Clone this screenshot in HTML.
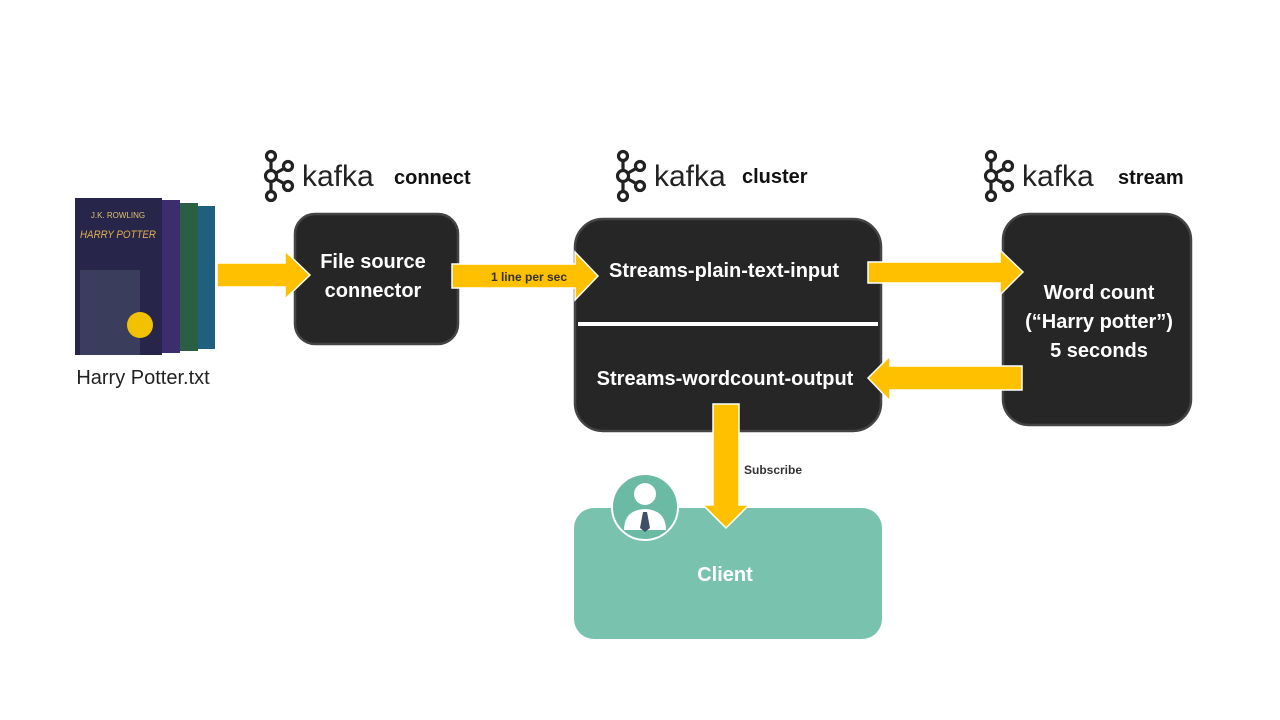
<!DOCTYPE html>
<html><head><meta charset="utf-8"><style>
html,body{margin:0;padding:0;background:#fff;}
svg{display:block;}
text{font-family:"Liberation Sans",sans-serif;}
</style></head><body>
<svg width="1280" height="720" viewBox="0 0 1280 720" xmlns="http://www.w3.org/2000/svg">
<defs>
<g id="logo" fill="none" stroke="#222" stroke-width="3.2">
<circle cx="7" cy="6" r="4.5"/>
<circle cx="7" cy="26" r="5.5"/>
<circle cx="7" cy="46" r="4.5"/>
<circle cx="24" cy="16" r="4.5"/>
<circle cx="24" cy="36" r="4.5"/>
<line x1="7" y1="10.5" x2="7" y2="20.5"/>
<line x1="7" y1="31.5" x2="7" y2="41.5"/>
<line x1="12" y1="23" x2="20" y2="18.5"/>
<line x1="12" y1="29" x2="20" y2="33.5"/>
</g>
</defs>
<!-- book -->
<rect x="75" y="198" width="87" height="157" fill="#27264a"/>
<rect x="80" y="270" width="60" height="85" fill="#3a3d5c"/>
<text x="118" y="218" font-size="8" fill="#e0c070" text-anchor="middle" font-family="Liberation Serif">J.K. ROWLING</text>
<text x="118" y="238" font-size="11" fill="#e0b050" text-anchor="middle" font-family="Liberation Serif" font-style="italic" textLength="76" lengthAdjust="spacingAndGlyphs">HARRY POTTER</text>
<circle cx="140" cy="325" r="13" fill="#f2c200"/>
<rect x="162" y="200" width="18" height="153" fill="#3c2d6c"/>
<rect x="180" y="203" width="18" height="148" fill="#2a5f44"/>
<rect x="198" y="206" width="17" height="143" fill="#1f5f80"/>
<text x="143" y="384" font-size="20" fill="#222" text-anchor="middle">Harry Potter.txt</text>

<!-- logos -->
<use href="#logo" x="264" y="150"/>
<text x="302" y="186" font-size="30" fill="#222">kafka</text>
<text x="394" y="184" font-size="20" font-weight="bold" fill="#111">connect</text>
<use href="#logo" x="616" y="150"/>
<text x="654" y="186" font-size="30" fill="#222">kafka</text>
<text x="742" y="183" font-size="20" font-weight="bold" fill="#111">cluster</text>
<use href="#logo" x="984" y="150"/>
<text x="1022" y="186" font-size="30" fill="#222">kafka</text>
<text x="1118" y="184" font-size="20" font-weight="bold" fill="#111">stream</text>

<!-- boxes -->
<rect x="295" y="214" width="163" height="130" rx="20" fill="#262626" stroke="#444" stroke-width="2.5"/>
<text x="373" y="268" font-size="20" font-weight="bold" fill="#fff" text-anchor="middle">File source</text>
<text x="373" y="297" font-size="20" font-weight="bold" fill="#fff" text-anchor="middle">connector</text>

<rect x="575" y="219" width="306" height="212" rx="28" fill="#262626" stroke="#444" stroke-width="2.5"/>
<rect x="578" y="322" width="300" height="4" fill="#fff"/>
<text x="724" y="277" font-size="20" font-weight="bold" fill="#fff" text-anchor="middle">Streams-plain-text-input</text>
<text x="725" y="385" font-size="20" font-weight="bold" fill="#fff" text-anchor="middle">Streams-wordcount-output</text>

<rect x="1003" y="214" width="188" height="211" rx="26" fill="#262626" stroke="#444" stroke-width="2.5"/>
<text x="1099" y="299" font-size="20" font-weight="bold" fill="#fff" text-anchor="middle">Word count</text>
<text x="1099" y="328" font-size="20" font-weight="bold" fill="#fff" text-anchor="middle">(“Harry potter”)</text>
<text x="1099" y="357" font-size="20" font-weight="bold" fill="#fff" text-anchor="middle">5 seconds</text>

<!-- client -->
<rect x="574" y="508" width="308" height="131" rx="20" fill="#79c3ae"/>
<text x="725" y="581" font-size="20" font-weight="bold" fill="#fff" text-anchor="middle">Client</text>
<circle cx="645" cy="507" r="33" fill="#6bbaa4" stroke="#fff" stroke-width="2"/>
<circle cx="645" cy="494" r="11" fill="#fff"/>
<path d="M624 530 Q624 510 645 509 Q666 510 666 530 Z" fill="#fff"/>
<path d="M643 512 L647 512 L650 528 L645 532 L640 528 Z" fill="#3d5068"/>

<!-- arrows -->
<g fill="#ffc000" stroke="#fff" stroke-width="1.5" stroke-linejoin="miter">
<path d="M217 263 L285 263 L285 251 L310 275 L285 299 L285 287 L217 287 Z"/>
<path d="M452 264 L575 264 L575 252 L598 276 L575 300 L575 288 L452 288 Z"/>
<path d="M868 262 L1000 262 L1000 250 L1023 272 L1000 295 L1000 283 L868 283 Z"/>
<path d="M1022 366 L890 366 L890 356 L868 378 L890 401 L890 390 L1022 390 Z"/>
<path d="M713 404 L739 404 L739 505 L749 505 L726 528 L703 505 L713 505 Z"/>
</g>
<text x="529" y="281" font-size="12" font-weight="bold" fill="#333" text-anchor="middle">1 line per sec</text>
<text x="744" y="474" font-size="12" font-weight="bold" fill="#333">Subscribe</text>
</svg>
</body></html>
